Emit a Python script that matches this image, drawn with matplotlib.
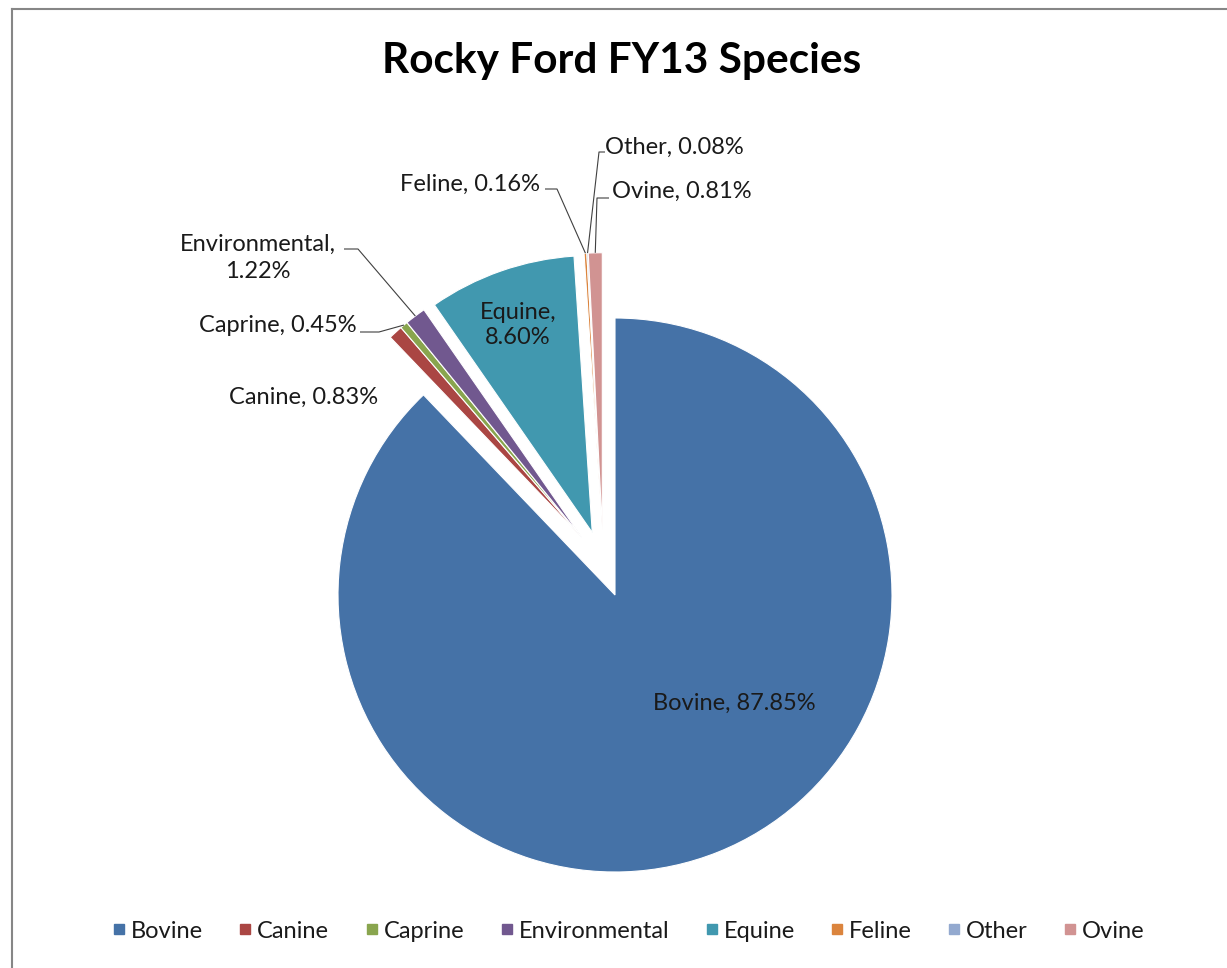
import matplotlib
matplotlib.use("Agg")
import matplotlib.pyplot as plt
from matplotlib.lines import Line2D
import numpy as np

categories = ["Bovine", "Canine", "Caprine", "Environmental", "Equine", "Feline", "Other", "Ovine"]
values = [87.85, 0.83, 0.45, 1.22, 8.60, 0.16, 0.08, 0.81]
colors = ["#4572A7", "#AA4643", "#89A54E", "#71588F", "#4198AF", "#DB843D", "#93A9CF", "#D19392"]
title = "Rocky Ford FY13 Species"

W, H = 1227, 968
FONT = ["Lato", "DejaVu Sans"]
R = 277
EXPL = 0.24 * R
explode = [0.0] + [EXPL] * (len(values) - 1)
# direction (degrees) in which each exploded slice is pulled out (style, as in the original)
explode_dir = [None, 120, 120, 120, 110, 101, 101, 101]

def P(x, y):
    return x, H - y

fig = plt.figure(figsize=(W / 100, H / 100), dpi=100)
ax = fig.add_axes([0, 0, 1, 1])
C = P(615, 595)
wedges, _ = ax.pie(values, colors=colors, startangle=90, counterclock=False,
                   center=C, radius=R, explode=explode,
                   wedgeprops=dict(edgecolor="white", linewidth=0.8))
for w, e, d in zip(wedges, explode, explode_dir):
    if d is not None:
        a = np.deg2rad(d)
        w.set_center((C[0] + e * np.cos(a), C[1] + e * np.sin(a)))
ax.set_xlim(0, W)
ax.set_ylim(0, H)
ax.set_aspect("equal")
ax.axis("off")

# border (only left and top visible)
ax.plot([12, 12], [-20, H - 9], color="#868686", lw=1.5, clip_on=False)
ax.plot([12, W + 20], [H - 9, H - 9], color="#868686", lw=1.5, clip_on=False)

ax.text(*P(622, 61), title, ha="center", va="center", fontsize=30.5,
        fontweight="bold", family=FONT, color="black")

fs = 17
TC = "#1a1a1a"

def labtxt(i):
    return f"{categories[i]}, {values[i]:.2f}%"

def outer(i, frac=0.5):
    w = wedges[i]
    th = np.deg2rad(w.theta1 + (w.theta2 - w.theta1) * frac)
    cx, cy = w.center
    return cx + w.r * np.cos(th), cy + w.r * np.sin(th)

# inside labels
ax.text(*P(734, 703), labtxt(0), ha="center", va="center", fontsize=fs, family=FONT, color=TC)
ax.text(*P(518, 325), f"{categories[4]},\n{values[4]:.2f}%", ha="center", va="center",
        fontsize=fs, family=FONT, color=TC, linespacing=1.25)

# outside labels
ax.text(*P(378, 397), labtxt(1), ha="right", va="center", fontsize=fs, family=FONT, color=TC)
ax.text(*P(357, 325), labtxt(2), ha="right", va="center", fontsize=fs, family=FONT, color=TC)
ax.text(*P(258, 258), f"{categories[3]},\n{values[3]:.2f}%", ha="center", va="center",
        fontsize=fs, family=FONT, color=TC, linespacing=1.35)
ax.text(*P(540, 184), labtxt(5), ha="right", va="center", fontsize=fs, family=FONT, color=TC)
ax.text(*P(605, 147), labtxt(6), ha="left", va="center", fontsize=fs, family=FONT, color=TC)
ax.text(*P(612, 191), labtxt(7), ha="left", va="center", fontsize=fs, family=FONT, color=TC)

lc = "#404040"
lw = 0.8
def leader(pts, i):
    xs = [P(*p)[0] for p in pts]
    ys = [P(*p)[1] for p in pts]
    ex, ey = outer(i)
    ax.plot(xs + [ex], ys + [ey], color=lc, lw=lw, solid_capstyle="butt")

leader([(360, 332), (379, 332)], 2)
leader([(344, 249), (358, 249)], 3)
leader([(545, 189), (557, 189)], 5)
leader([(605, 152), (599, 152)], 6)
leader([(609, 198), (597, 198)], 7)

handles = [Line2D([0], [0], marker="s", color="none", markerfacecolor=c, markeredgecolor=c,
                  markersize=7) for c in colors]
leg = fig.legend(handles, categories, loc="center", bbox_to_anchor=(626 / W, 1 - 931 / H),
                 ncol=8, frameon=False, handletextpad=0.0, columnspacing=1.3,
                 handlelength=1.0, prop=dict(family=FONT, size=fs))
for t in leg.get_texts():
    t.set_color(TC)

fig.savefig("out.png", dpi=100, facecolor="white")
